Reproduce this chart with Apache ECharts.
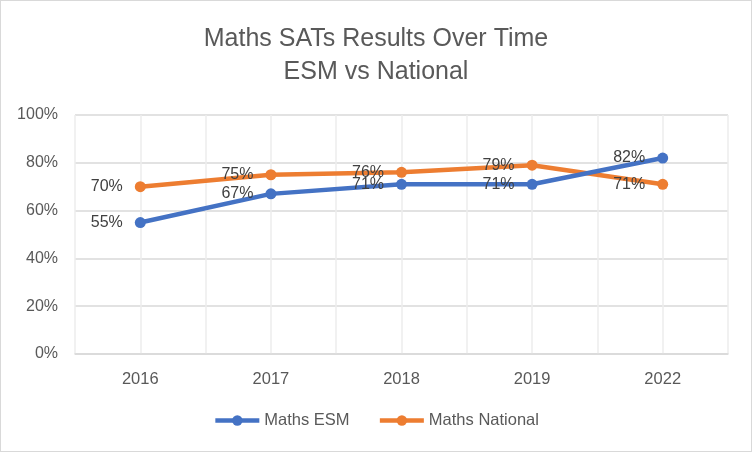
<!DOCTYPE html>
<html>
<head>
<meta charset="utf-8">
<script src="https://cdn.jsdelivr.net/npm/echarts@6/dist/echarts.min.js"></script>
<style>
  html, body { margin: 0; padding: 0; background: #fff; }
  #main { width: 750px; height: 450px; border: 1px solid #d9d9d9; }
</style>
</head>
<body>
<div id="main"></div>
<script>
var years = ['2016', '2017', '2018', '2019', '2022'];
var mathsEsm = [55, 67, 71, 71, 82];
var mathsNational = [70, 75, 76, 79, 71];
var yTicks = [0, 20, 40, 60, 80, 100];

var chart = echarts.init(document.getElementById('main'));
var font = 'Liberation Sans';

function labelCfg() {
    return {
        show: true,
        position: 'left',
        distance: 12,
        color: '#404040',
        fontSize: 16,
        fontFamily: font,
        formatter: function (p) { return p.value + '%'; }
    };
}

option = {
    animation: false,
    title: {
        text: 'Maths SATs Results Over Time\nESM vs National',
        left: 'center',
        top: 17,
        textStyle: {
            color: '#595959',
            fontSize: 25,
            fontWeight: 'normal',
            fontFamily: font,
            lineHeight: 33
        }
    },
    legend: {
        bottom: 17,
        left: 'center',
        itemWidth: 44,
        itemHeight: 13,
        itemGap: 28,
        lineStyle: { width: 4.5 },
        textStyle: { color: '#595959', fontSize: 16.5, fontFamily: font },
        data: ['Maths ESM', 'Maths National']
    },
    grid: { left: 74, right: 23, top: 114, bottom: 97 },
    xAxis: [
        {
            type: 'category',
            data: years,
            boundaryGap: true,
            axisLine: { lineStyle: { color: '#d9d9d9', width: 1.5 } },
            axisTick: { show: false },
            splitLine: { show: false },
            axisLabel: { color: '#595959', fontSize: 16.5, fontFamily: font, margin: 17 }
        },
        {
            type: 'value',
            min: 0,
            max: 10,
            interval: 1,
            show: true,
            axisLine: { show: false },
            axisTick: { show: false },
            axisLabel: { show: false },
            splitLine: { show: true, lineStyle: { color: '#ececec', width: 1.5 } }
        }
    ],
    yAxis: {
        type: 'value',
        min: yTicks[0],
        max: yTicks[yTicks.length - 1],
        interval: 20,
        axisLine: { show: false },
        axisTick: { show: false },
        splitLine: { lineStyle: { color: '#d9d9d9', width: 1.5 } },
        axisLabel: {
            color: '#595959',
            fontSize: 16,
            fontFamily: font,
            margin: 17,
            formatter: '{value}%'
        }
    },
    series: [
        {
            name: 'Maths ESM',
            type: 'line',
            data: mathsEsm,
            symbol: 'circle',
            symbolSize: 11,
            lineStyle: { width: 4.5, color: '#4472C4' },
            itemStyle: { color: '#4472C4' },
            label: labelCfg(),
            z: 3
        },
        {
            name: 'Maths National',
            type: 'line',
            data: mathsNational,
            symbol: 'circle',
            symbolSize: 11,
            lineStyle: { width: 4.5, color: '#ED7D31' },
            itemStyle: { color: '#ED7D31' },
            label: labelCfg(),
            z: 2
        }
    ]
};
chart.setOption(option);
</script>
</body>
</html>
